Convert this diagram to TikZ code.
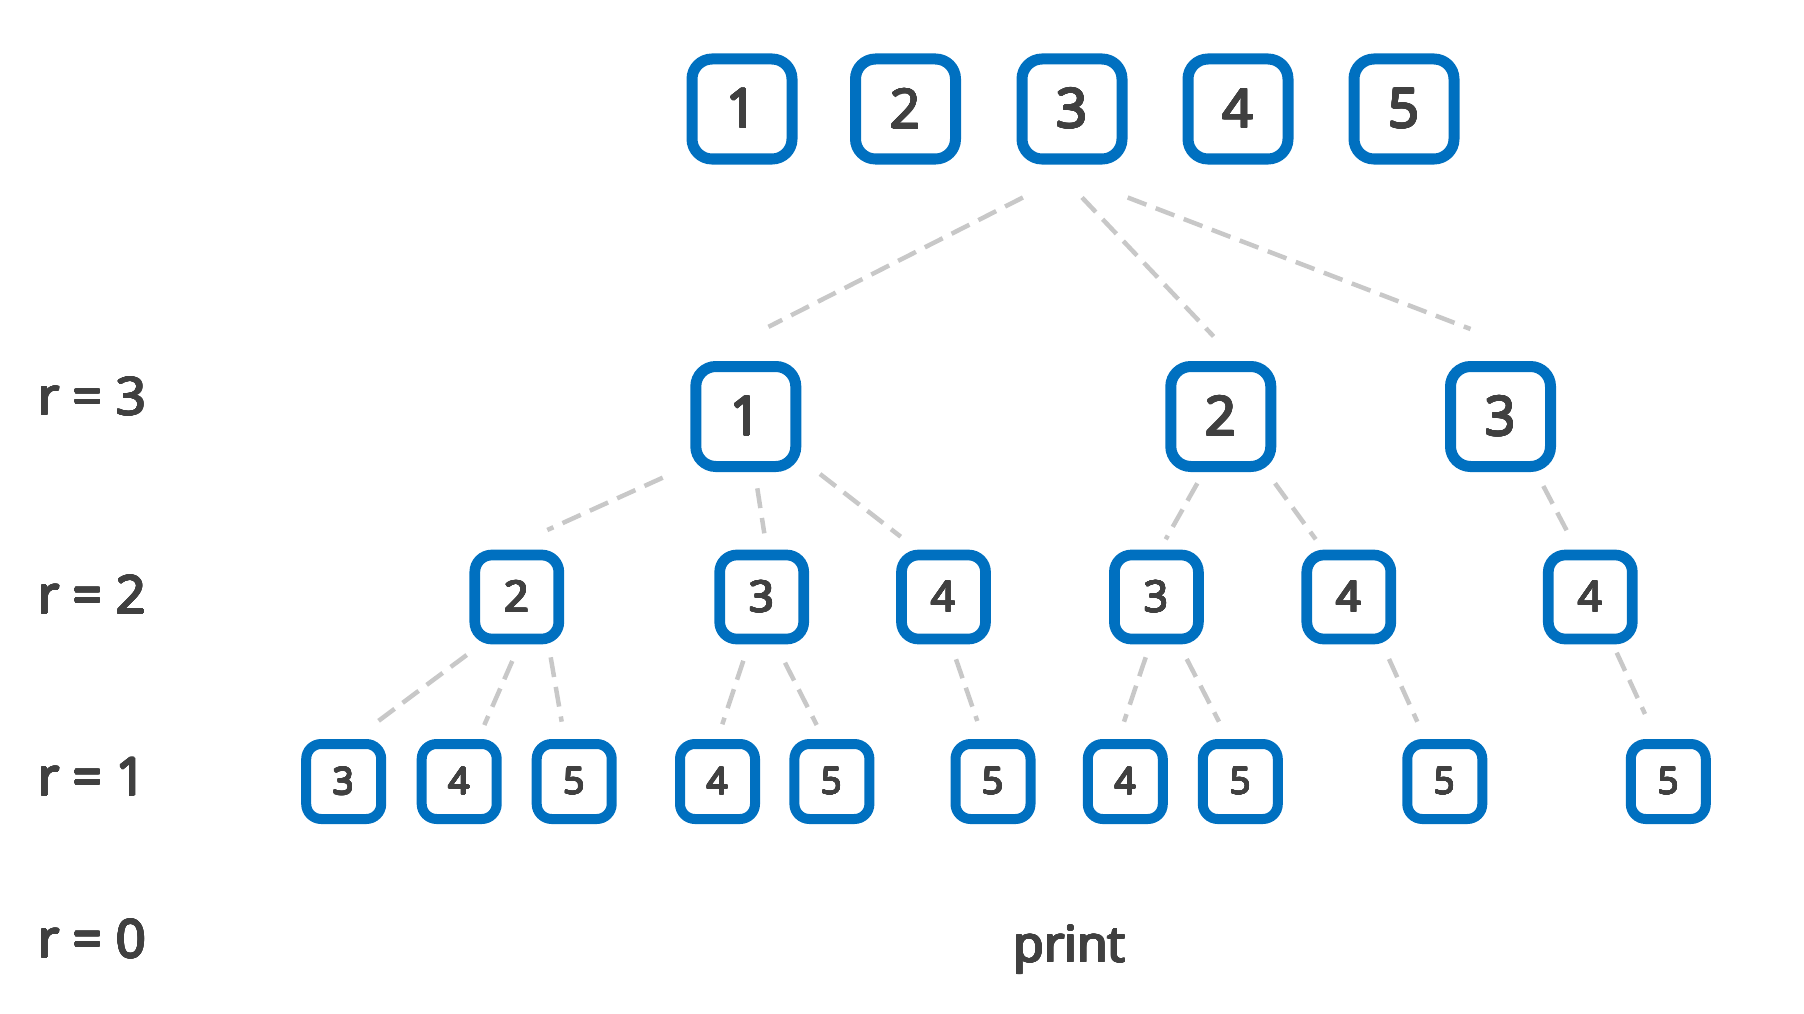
\documentclass[tikz,border=0pt]{standalone}
\usepackage{fontspec}
\setmainfont{Open Sans}
\usepackage{contour}
\contournumber{24}
\usetikzlibrary{calc}
\definecolor{boxblue}{HTML}{0070C0}
\definecolor{txtgray}{HTML}{404040}
\definecolor{linegray}{HTML}{C8C8C8}
\newcommand{\sbtxt}[1]{\contour{txtgray}{#1}}
\tikzset{
  bigbox/.style={draw=boxblue, line width=11pt, rounded corners=20pt, minimum width=100pt, minimum height=100pt, inner sep=0pt, fill=white, text=txtgray, font=\fontsize{54}{54}\selectfont\contourlength{0.9pt}},
  midbox/.style={draw=boxblue, line width=10.7pt, rounded corners=17pt, minimum width=84pt, minimum height=84pt, inner sep=0pt, fill=white, text=txtgray, font=\fontsize{43}{43}\selectfont\contourlength{0.75pt}},
  smallbox/.style={draw=boxblue, line width=10pt, rounded corners=15pt, minimum width=75pt, minimum height=75pt, inner sep=0pt, fill=white, text=txtgray, font=\fontsize{37}{37}\selectfont\contourlength{0.65pt}},
  conn/.style={draw=linegray, line width=4.5pt, dash pattern=on 20pt off 10pt},
  lbl/.style={anchor=base west, inner sep=0pt, text=txtgray, font=\fontsize{52}{52}\selectfont\contourlength{0.9pt}},
}
\begin{document}
\begin{tikzpicture}[x=1pt,y=-1pt]
\useasboundingbox (0,0) rectangle (1804,1014);
% top row
\node[bigbox] (t1) at (742,109) {\sbtxt{1}};
\node[bigbox] (t2) at (905.5,109) {\sbtxt{2}};
\node[bigbox] (t3) at (1072,109) {\sbtxt{3}};
\node[bigbox] (t4) at (1238,109) {\sbtxt{4}};
\node[bigbox] (t5) at (1404,109) {\sbtxt{5}};
% r = 3
\node[bigbox] (a1) at (745.8,416.5) {\sbtxt{1}};
\node[bigbox] (a2) at (1220.8,416.5) {\sbtxt{2}};
\node[bigbox] (a3) at (1500.5,416.5) {\sbtxt{3}};
% r = 2
\node[midbox] (b1) at (516.8,597) {\sbtxt{2}};
\node[midbox] (b2) at (761.7,597) {\sbtxt{3}};
\node[midbox] (b3) at (943.5,597) {\sbtxt{4}};
\node[midbox] (b4) at (1156.4,597) {\sbtxt{3}};
\node[midbox] (b5) at (1348.8,597) {\sbtxt{4}};
\node[midbox] (b6) at (1590.3,597) {\sbtxt{4}};
% r = 1
\node[smallbox] (c1) at (343.7,781.5) {\sbtxt{3}};
\node[smallbox] (c2) at (459.2,781.5) {\sbtxt{4}};
\node[smallbox] (c3) at (574.2,781.5) {\sbtxt{5}};
\node[smallbox] (c4) at (717.5,781.5) {\sbtxt{4}};
\node[smallbox] (c5) at (831.9,781.5) {\sbtxt{5}};
\node[smallbox] (c6) at (993,781.5) {\sbtxt{5}};
\node[smallbox] (c7) at (1125.3,781.5) {\sbtxt{4}};
\node[smallbox] (c8) at (1240.3,781.5) {\sbtxt{5}};
\node[smallbox] (c9) at (1444.8,781.5) {\sbtxt{5}};
\node[smallbox] (c10) at (1668.3,781.5) {\sbtxt{5}};
% labels
\node[lbl] (l3) at (38,414.9) {\sbtxt{r = 3}};
\node[lbl] (l2) at (38,613.6) {\sbtxt{r = 2}};
\node[lbl] (l1) at (38,795.4) {\sbtxt{r = 1}};
\node[lbl] (l0) at (38,957.5) {\sbtxt{r = 0}};
\node[anchor=base, inner sep=0pt, text=txtgray, font=\fontsize{50}{50}\selectfont\contourlength{0.9pt}] (pr) at (1069.5,962) {\sbtxt{print}};
% connectors top -> r3
\draw[conn] ($(t3.center)+(-49.1,88.5)$) -- ($(a1.center)+(22.7,-89.7)$);
\draw[conn] ($(t3.center)+(10,88.5)$) -- ($(a2.center)+(-7.2,-80.1)$);
\draw[conn] ($(t3.center)+(55.7,88.5)$) -- ($(a3.center)+(-30,-87.5)$);
% r3 -> r2
\draw[conn] ($(a1.center)+(-83.1,61.2)$) -- ($(b1.center)+(30.5,-67)$);
\draw[conn] ($(a1.center)+(11.5,71.8)$) -- ($(b2.center)+(2.6,-63.7)$);
\draw[conn] ($(a1.center)+(74.2,57.5)$) -- ($(b3.center)+(-42.8,-60.3)$);
\draw[conn] ($(a2.center)+(-23.5,66.8)$) -- ($(b4.center)+(9.3,-57.7)$);
\draw[conn] ($(a2.center)+(54.2,66.8)$) -- ($(b5.center)+(-33.1,-57.7)$);
\draw[conn] ($(a3.center)+(42.8,69.5)$) -- ($(b6.center)+(-23,-65.3)$);
% r2 -> r1
\draw[conn] ($(b1.center)+(-50.1,58)$) -- ($(c1.center)+(30.6,-57.5)$);
\draw[conn] ($(b1.center)+(-4.5,64)$) -- ($(c2.center)+(25.1,-56.5)$);
\draw[conn] ($(b1.center)+(33.9,60.3)$) -- ($(c3.center)+(-12.5,-59.8)$);
\draw[conn] ($(b2.center)+(-18.4,63.7)$) -- ($(c4.center)+(4.8,-57.2)$);
\draw[conn] ($(b2.center)+(23.3,65.7)$) -- ($(c5.center)+(-15.2,-56.5)$);
\draw[conn] ($(b3.center)+(12.5,62.3)$) -- ($(c6.center)+(-15.7,-60.5)$);
\draw[conn] ($(b4.center)+(-10.7,60.3)$) -- ($(c7.center)+(-1.3,-59.8)$);
\draw[conn] ($(b4.center)+(30.3,62)$) -- ($(c8.center)+(-21.3,-59.8)$);
\draw[conn] ($(b5.center)+(40.2,62)$) -- ($(c9.center)+(-27.5,-59.8)$);
\draw[conn] ($(b6.center)+(26.4,55.7)$) -- ($(c10.center)+(-23.3,-67.5)$);
\end{tikzpicture}
\end{document}
